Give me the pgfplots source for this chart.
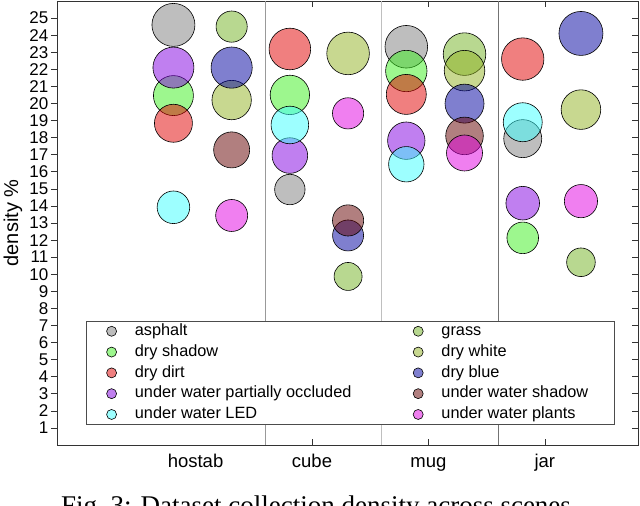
\documentclass[border=0pt]{standalone}
\usepackage{fontspec}
\setmainfont{Liberation Sans}
\newfontfamily\capfont{Liberation Serif}
\usepackage{pgfplots}
\usepackage{pgfplotstable}
\pgfplotsset{compat=1.18}

\definecolor{cAsph}{RGB}{125,125,125}
\definecolor{cDShadow}{RGB}{60,240,30}
\definecolor{cDirt}{RGB}{225,0,0}
\definecolor{cUWPO}{RGB}{130,0,225}
\definecolor{cLED}{RGB}{60,255,255}
\definecolor{cGrass}{RGB}{113,177,33}
\definecolor{cDWhite}{RGB}{145,177,33}
\definecolor{cBlue}{RGB}{0,0,160}
\definecolor{cUWShadow}{RGB}{100,0,0}
\definecolor{cPlants}{RGB}{225,0,225}

\pgfplotstableread{
x y r
0.81 24.6 21.5
1.81 14.96 15.2
2.81 23.32 21.3
3.81 17.94 19
}\asphalt
\pgfplotstableread{
x y r
0.81 20.46 20
1.81 20.5 19.7
2.81 21.9 20.7
3.81 12.13 15.8
}\dryshadow
\pgfplotstableread{
x y r
0.81 18.84 19
1.81 23.19 20.8
2.81 20.53 20
3.81 22.6 21.2
}\drydirt
\pgfplotstableread{
x y r
0.81 22.1 20.5
1.81 16.95 17.8
2.81 17.82 18.7
3.81 14.16 16.8
}\uwpo
\pgfplotstableread{
x y r
0.81 13.92 16.3
1.81 18.74 18.8
2.81 16.44 17.7
3.81 18.9 19.5
}\uwled
\pgfplotstableread{
x y r
1.31 24.5 15.6
2.31 9.87 14
3.31 22.89 21.3
4.31 10.7 14.3
}\grass
\pgfplotstableread{
x y r
1.31 20.2 19.7
2.31 22.93 21.3
3.31 21.92 20.3
4.31 19.64 19.8
}\drywhite
\pgfplotstableread{
x y r
1.31 22.1 20.6
2.31 12.27 15.5
3.31 19.99 19.5
4.31 24.1 22
}\dryblue
\pgfplotstableread{
x y r
1.31 17.28 18
2.31 13.15 15.6
3.31 18.1 18.8
}\uwshadow
\pgfplotstableread{
x y r
1.31 13.44 16
2.31 19.42 15.6
3.31 17.1 18
4.31 14.28 16.6
}\uwplants

\pgfplotsset{
  bub/.style={only marks, mark=*, scatter, point meta=y,
    scatter/use mapped color={draw=black, fill=#1},
    mark options={fill opacity=0.5, line width=0.6pt},
    visualization depends on={\thisrow{r} \as \rad},
    scatter/@pre marker code/.append style={/tikz/mark size=\rad},
    legend image code/.code={\path (0pt,0pt) (46pt,0pt);
      \draw[draw=black, fill=#1, fill opacity=0.5, line width=0.6pt] (23pt,0pt) circle (5pt);}},
}

\begin{document}
\begin{tikzpicture}
\useasboundingbox (0pt,0pt) rectangle (640pt,506pt);
\begin{axis}[
  at={(57pt,61pt)}, anchor=south west,
  scale only axis, width=581pt, height=444pt,
  xmin=-0.19, xmax=4.80, ymin=0, ymax=26,
  axis line style={line width=0.8pt, draw=black!80},
  xtick={2,3,4}, xticklabels={cube,mug,jar},
  extra x ticks={1}, extra x tick labels={hostab},
  extra x tick style={major tick length=0pt},
  xtick align=inside, xtick pos=both,
  ytick={1,...,25}, ytick pos=left, ytick align=outside,
  major tick length=6pt,
  tick style={line width=0.6pt, black!80},
  /pgf/number format/assume math mode=true,
  yticklabel style={font=\fontsize{17}{17}\selectfont, inner sep=2.5pt},
  xticklabel style={font=\fontsize{18.5}{18.5}\selectfont, text height=13pt, text depth=4pt, yshift=-6pt},
  ylabel={density \%},
  ylabel style={font=\fontsize{20}{20}\selectfont, at={(axis description cs:-0.0757,0.5)}, anchor=center},
  legend columns=2,
  legend cell align=left,
  legend style={at={(axis description cs:0.0499,0.045)}, anchor=south west,
    draw=black!70, fill=white, line width=0.6pt, inner sep=2pt,
    font=\fontsize{16.3}{16.3}\selectfont,
    nodes={inner sep=0pt, text height=12.5pt, text depth=4pt},
    row sep=4.3pt},
  clip=false,
]
\draw[black!40, line width=0.8pt] (axis cs:1.6,0) -- (axis cs:1.6,26);
\draw[black!25, line width=0.8pt] (axis cs:2.6,0) -- (axis cs:2.6,26);
\draw[black!55, line width=0.8pt] (axis cs:3.6,0) -- (axis cs:3.6,26);

\addplot[bub=cAsph] table {\asphalt};
\addlegendentry{\makebox[260pt][l]{asphalt}}
\addplot[bub=cGrass] table {\grass};
\addlegendentry{\makebox[171pt][l]{grass}}
\addplot[bub=cDShadow] table {\dryshadow};
\addlegendentry{\makebox[260pt][l]{dry shadow}}
\addplot[bub=cDWhite] table {\drywhite};
\addlegendentry{\makebox[171pt][l]{dry white}}
\addplot[bub=cDirt] table {\drydirt};
\addlegendentry{\makebox[260pt][l]{dry dirt}}
\addplot[bub=cBlue] table {\dryblue};
\addlegendentry{\makebox[171pt][l]{dry blue}}
\addplot[bub=cUWPO] table {\uwpo};
\addlegendentry{\makebox[260pt][l]{under water partially occluded}}
\addplot[bub=cUWShadow] table {\uwshadow};
\addlegendentry{\makebox[171pt][l]{under water shadow}}
\addplot[bub=cLED] table {\uwled};
\addlegendentry{\makebox[260pt][l]{under water LED}}
\addplot[bub=cPlants] table {\uwplants};
\addlegendentry{\makebox[171pt][l]{under water plants}}
\end{axis}
\begin{axis}[
  at={(57pt,61pt)}, anchor=south west,
  scale only axis, width=581pt, height=444pt,
  xmin=-0.19, xmax=4.80, ymin=0, ymax=26,
  hide x axis, axis y line*=right,
  axis line style={draw=none},
  ytick={1,...,25}, yticklabels={}, ytick align=inside,
  major tick length=6pt,
  tick style={line width=0.6pt, black!80},
]
\end{axis}
\node[anchor=base, font=\capfont\fontsize{27}{27}\selectfont] at (316pt,-8.5pt) {Fig.~3: Dataset collection density across scenes};
\end{tikzpicture}
\end{document}
